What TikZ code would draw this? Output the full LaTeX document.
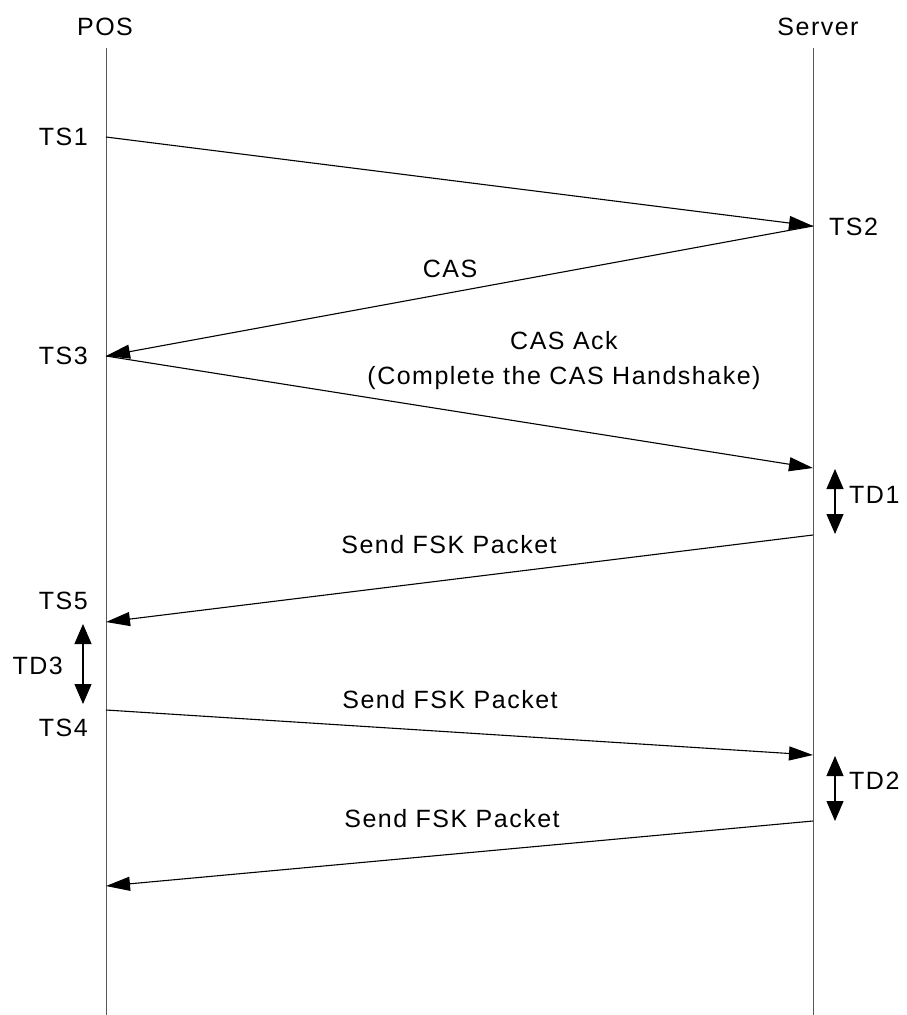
\documentclass[tikz,border=0pt]{standalone}
\usepackage{fontspec}
\setmainfont{Liberation Sans}[LetterSpace=6.0]
\usetikzlibrary{arrows.meta}
\begin{document}
\begin{tikzpicture}[x=1pt,y=-1pt,
  lbl/.style={inner sep=0pt,font=\fontsize{25}{35}\selectfont},
  life/.style={draw=black!65,line width=1pt},
  msg/.style={draw=black,line width=1.1pt,-{Triangle[length=24pt,width=14pt]}},
  dur/.style={draw=black,line width=1.1pt,{Triangle[length=20pt,width=17pt]}-{Triangle[length=20pt,width=17pt]}}]
\useasboundingbox (0,0) rectangle (907,1015);
% lifelines
\node[lbl] (pos) at (105,27) {POS};
\node[lbl] (srv) at (818,27) {Server};
\coordinate (posTop) at (106,48);
\coordinate (posBot) at (106,1015);
\coordinate (srvTop) at (813,48);
\coordinate (srvBot) at (813,1015);
\draw[life] (posTop) -- (posBot);
\draw[life] (srvTop) -- (srvBot);
% points on lifelines
\coordinate (p1) at (106,137);
\coordinate (s1) at (813,226);
\coordinate (p2) at (106,356);
\coordinate (s2) at (813,468);
\coordinate (s3) at (813,535);
\coordinate (p3) at (106,622);
\coordinate (p4) at (106,710);
\coordinate (s4) at (813,755);
\coordinate (s5) at (813,821);
\coordinate (p5) at (106,886);
% messages
\draw[msg] (p1) -- (s1);
\draw[msg] (s1) -- (p2);
\draw[msg] (p2) -- (s2);
\draw[msg] (s3) -- (p3);
\draw[msg] (p4) -- (s4);
\draw[msg] (s5) -- (p5);
% durations
\coordinate (td1a) at (835,469);
\coordinate (td1b) at (835,534);
\coordinate (td2a) at (835,756);
\coordinate (td2b) at (835,821);
\coordinate (td3a) at (83,624);
\coordinate (td3b) at (83,704);
\draw[dur] (td1a) -- (td1b);
\draw[dur] (td2a) -- (td2b);
\draw[dur] (td3a) -- (td3b);
% labels
\node[lbl,anchor=east] (ts1) at (88,137) {TS1};
\node[lbl,anchor=west] (ts2) at (829,227) {TS2};
\node[lbl,anchor=east] (ts3) at (88,356) {TS3};
\node[lbl,anchor=east] (ts5) at (88,601) {TS5};
\node[lbl,anchor=east] (ts4) at (88,728) {TS4};
\node[lbl,anchor=west] (td1) at (849,495) {TD1};
\node[lbl,anchor=west] (td2) at (849,781) {TD2};
\node[lbl,anchor=east] (td3) at (63,666) {TD3};
\node[lbl] (cas) at (450,269) {CAS};
\node[lbl,align=center] (casack) at (564,361) {CAS Ack\\(Complete the CAS Handshake)};
\node[lbl] (fsk1) at (449,545) {Send FSK Packet};
\node[lbl] (fsk2) at (450,700) {Send FSK Packet};
\node[lbl] (fsk3) at (452,819) {Send FSK Packet};
\end{tikzpicture}
\end{document}
